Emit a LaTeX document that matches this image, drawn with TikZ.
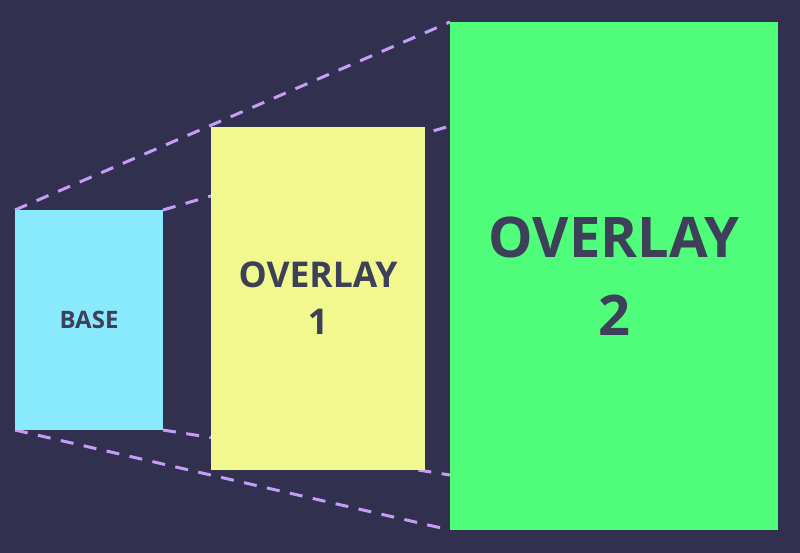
\documentclass[tikz,border=0pt]{standalone}
\usepackage{fontspec}
\setmainfont{Open Sans}
\usetikzlibrary{backgrounds}

\definecolor{bgnavy}{HTML}{31314F}
\definecolor{basecyan}{HTML}{8AEAFD}
\definecolor{ovyellow}{HTML}{F1F98E}
\definecolor{ovgreen}{HTML}{50FD7A}
\definecolor{guidelilac}{HTML}{C69CF4}
\definecolor{labelink}{HTML}{3E3F58}

\tikzset{
  layerbox/.style={inner sep=0pt, outer sep=0pt, align=center,
    text=labelink, font=\bfseries},
  guide/.style={guidelilac, line width=3pt, dash pattern=on 13pt off 10.5pt}
}

\begin{document}
\begin{tikzpicture}[x=1pt,y=-1pt]

% Layers
\node[layerbox, fill=basecyan, minimum width=148, minimum height=220,
  font=\bfseries\fontsize{24}{28}\selectfont] (base) at (89,320) {BASE};
\node[layerbox, fill=ovyellow, minimum width=214, minimum height=343,
  font=\bfseries\fontsize{35.5}{47}\selectfont] (over1) at (318,298.5) {OVERLAY\\1};
\node[layerbox, fill=ovgreen, minimum width=328, minimum height=508,
  font=\bfseries\fontsize{56}{78}\selectfont] (over2) at (614,276) {OVERLAY\\2};

% Ends of the inner guides
\coordinate (tophit) at (450,126);
\coordinate (bothit) at (450,475);

\begin{scope}[on background layer]
% Background
\fill[bgnavy] (0,0) rectangle (800,553);

% Guides
\draw[guide] (base.north west) -- (over2.north west);
\draw[guide] (base.south west) -- (over2.south west);
\draw[guide] (base.north east) -- (tophit);
\draw[guide] (base.south east) -- (bothit);
\end{scope}

\end{tikzpicture}
\end{document}
